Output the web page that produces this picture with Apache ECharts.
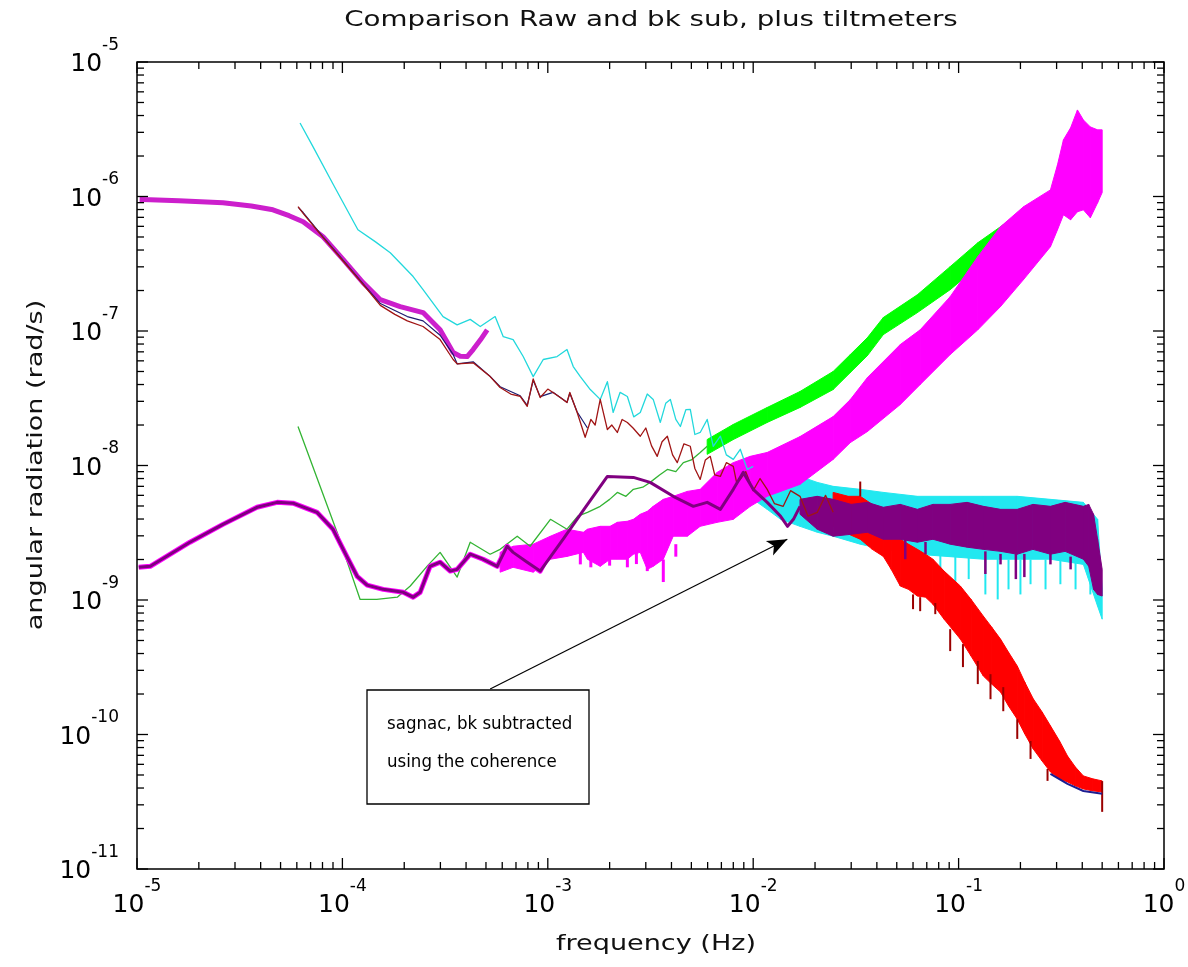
<!DOCTYPE html>
<html><head><meta charset="utf-8">
<script src="https://cdn.jsdelivr.net/npm/echarts@6/dist/echarts.min.js"></script>
<style>html,body{margin:0;padding:0;background:#fff}#chart{width:1188px;height:967px}</style>
</head><body><div id="chart"></div>
<script>
// ---------------- text ----------------
const TITLE = 'Comparison Raw and bk sub, plus tiltmeters';
const X_NAME = 'frequency (Hz)';
const Y_NAME = 'angular radiation (rad/s)';
const NOTE_LINES = ['sagnac, bk subtracted', 'using the coherence'];
const X_RANGE = [1e-5, 1];
const Y_RANGE = [1e-11, 1e-5];
const X_DECADES = [-5, -4, -3, -2, -1, 0];
const Y_DECADES = [-11, -10, -9, -8, -7, -6, -5];

// ---------------- data: [frequency, value] ----------------
const UPPER_MAGENTA = [[1.03e-5,9.5e-7],[1.16e-5,9.46e-7],[1.6e-5,9.3e-7],[2.62e-5,8.97e-7],[3.6e-5,8.5e-7],[4.59e-5,7.96e-7],[5.5e-5,7.2e-7],[6.44e-5,6.49e-7],[8.05e-5,5.02e-7],[1.01e-4,3.39e-7],[1.26e-4,2.29e-7],[1.53e-4,1.71e-7],[1.91e-4,1.52e-7],[2.47e-4,1.37e-7],[2.99e-4,1.02e-7],[3.46e-4,6.91e-8],[3.75e-4,6.5e-8],[4.05e-4,6.46e-8],[4.33e-4,7.28e-8],[4.7e-4,8.6e-8],[5.07e-4,1.02e-7]];

const NAVY_THIN = [[6.1e-5,8.3e-7],[6.44e-5,7.6e-7],[8.05e-5,5.0e-7],[1.01e-4,3.35e-7],[1.26e-4,2.25e-7],[1.53e-4,1.6e-7],[1.8e-4,1.42e-7],[2.07e-4,1.28e-7],[2.47e-4,1.19e-7],[2.99e-4,9.3e-8],[3.46e-4,6.7e-8],[3.62e-4,5.7e-8],[4.33e-4,5.9e-8],[5.24e-4,4.6e-8],[5.86e-4,3.85e-8],[7.34e-4,3.3e-8],[7.94e-4,2.8e-8],[8.49e-4,4.3e-8],[9.18e-4,3.25e-8],[1.06e-3,3.5e-8],[1.24e-3,2.95e-8],[1.28e-3,3.45e-8],[1.39e-3,2.5e-8],[1.56e-3,1.9e-8]];
const NAVY_END = [[0.28,5.1e-11],[0.339,4.3e-11],[0.405,3.8e-11],[0.5,3.62e-11]];

const RED_THIN = [[6.08e-5,8.4e-7],[6.44e-5,7.5e-7],[8.05e-5,4.95e-7],[1.01e-4,3.3e-7],[1.26e-4,2.22e-7],[1.53e-4,1.55e-7],[1.8e-4,1.33e-7],[2.07e-4,1.19e-7],[2.47e-4,1.08e-7],[2.99e-4,8.63e-8],
[3.46e-4,6.14e-8],[3.62e-4,5.7e-8],[4.33e-4,5.8e-8],[5.24e-4,4.58e-8],[5.86e-4,3.8e-8],[6.6e-4,3.4e-8],[7.34e-4,3.26e-8],[7.94e-4,2.75e-8],[8.49e-4,4.4e-8],[9.18e-4,3.2e-8],
[1.0e-3,3.7e-8],[1.06e-3,3.49e-8],[1.15e-3,3.2e-8],[1.24e-3,2.94e-8],[1.28e-3,3.49e-8],[1.39e-3,2.48e-8],[1.52e-3,1.62e-8],[1.62e-3,2.2e-8],[1.7e-3,2.0e-8],[1.8e-3,3.1e-8],
[1.95e-3,1.85e-8],[2.05e-3,2.0e-8],[2.18e-3,1.76e-8],[2.3e-3,2.2e-8],[2.44e-3,2.09e-8],[2.6e-3,1.9e-8],[2.82e-3,1.65e-8],[3.0e-3,1.9e-8],[3.2e-3,1.4e-8],[3.41e-3,1.17e-8],
[3.6e-3,1.5e-8],[3.82e-3,1.65e-8],[4.05e-3,1.2e-8],[4.27e-3,1.05e-8],[4.6e-3,1.45e-8],[4.94e-3,1.39e-8],[5.2e-3,9.5e-9],[5.52e-3,7.88e-9],[5.85e-3,1.1e-8],[6.18e-3,1.17e-8],
[6.5e-3,8.5e-9],[6.92e-3,8.3e-9],[7.4e-3,1.05e-8],[8.0e-3,9.85e-9],[8.3e-3,7.5e-9],[8.65e-3,7.88e-9],[9.2e-3,9.0e-9],[1.0e-2,6.5e-9],[1.08e-2,8.0e-9],[1.17e-2,6.65e-9],
[1.27e-2,5.2e-9],[1.4e-2,4.97e-9],[1.52e-2,6.5e-9],[1.69e-2,5.9e-9],[1.85e-2,4.2e-9],[2.05e-2,4.48e-9],[2.25e-2,6.0e-9],[2.45e-2,4.5e-9]];

const CYAN_THIN = [[6.22e-5,3.52e-6],[7.2e-5,2.34e-6],[9.0e-5,1.24e-6],[1.19e-4,5.66e-7],[1.45e-4,4.6e-7],[1.71e-4,3.82e-7],[2.21e-4,2.54e-7],[2.47e-4,2.03e-7],[3.09e-4,1.28e-7],[3.62e-4,1.11e-7],[4.19e-4,1.22e-7],[4.69e-4,1.08e-7],[5.54e-4,1.28e-7],[6.07e-4,9.08e-8],[6.78e-4,8.63e-8],[7.59e-4,6.46e-8],[8.49e-4,4.58e-8],[9.5e-4,6.14e-8],[1.11e-3,6.46e-8],[1.24e-3,7.28e-8],[1.33e-3,5.44e-8],[1.44e-3,4.58e-8],[1.61e-3,3.67e-8],[1.8e-3,3.1e-8],[1.95e-3,4.2e-8],[2.08e-3,2.48e-8],[2.25e-3,3.5e-8],[2.44e-3,3.26e-8],[2.62e-3,2.3e-8],[2.82e-3,2.48e-8],[3.05e-3,3.4e-8],[3.26e-3,3.1e-8],[3.53e-3,2.09e-8],[3.75e-3,2.9e-8],[3.95e-3,3.1e-8],[4.2e-3,2.2e-8],[4.42e-3,1.95e-8],[4.7e-3,2.6e-8],[4.94e-3,2.61e-8],[5.2e-3,1.7e-8],[5.52e-3,1.76e-8],[5.97e-3,2.2e-8],[6.39e-3,1.39e-8],[6.92e-3,1.65e-8],[7.4e-3,1.2e-8],[8.0e-3,1.11e-8],[8.65e-3,1.32e-8],[9.36e-3,9.35e-9],[1.0e-2,9.85e-9]];

const GREEN_THIN = [[6.08e-5,1.95e-8],[9.42e-5,3.19e-9],[1.22e-4,1.01e-9],[1.47e-4,1.01e-9],[1.85e-4,1.05e-9],[2.14e-4,1.27e-9],[2.6e-4,1.8e-9],[2.99e-4,2.26e-9],[3.62e-4,1.48e-9],[4.19e-4,2.69e-9],[5.24e-4,2.19e-9],[5.86e-4,2.38e-9],[7.1e-4,2.98e-9],[8.2e-4,2.51e-9],[1.03e-3,3.98e-9],[1.24e-3,3.36e-9],[1.4e-3,4.2e-9],[1.56e-3,4.48e-9],[1.8e-3,4.97e-9],[2.0e-3,5.6e-9],[2.18e-3,6.31e-9],[2.4e-3,5.9e-9],[2.61e-3,6.65e-9],[2.9e-3,6.9e-9],[3.15e-3,7.49e-9],[3.5e-3,8.5e-9],[3.82e-3,9.35e-9],[4.2e-3,9.0e-9],[4.57e-3,1.05e-8],[5.0e-3,1.1e-8],[5.52e-3,1.25e-8],[5.97e-3,1.39e-8]];

const LOWER_MAGENTA = [[1.02e-5,1.75e-9],[1.16e-5,1.78e-9],[1.81e-5,2.69e-9],[2.62e-5,3.65e-9],[3.84e-5,4.89e-9],[4.81e-5,5.32e-9],[5.75e-5,5.25e-9],[7.53e-5,4.48e-9],[9.0e-5,3.36e-9],[1.05e-4,2.11e-9],[1.18e-4,1.5e-9],[1.32e-4,1.29e-9],[1.58e-4,1.2e-9],[1.98e-4,1.14e-9],[2.21e-4,1.05e-9],[2.39e-4,1.14e-9],[2.67e-4,1.78e-9],[2.99e-4,1.91e-9],[3.35e-4,1.64e-9],[3.62e-4,1.69e-9],[4.19e-4,2.19e-9],[4.84e-4,2.01e-9],[5.67e-4,1.78e-9],[6.34e-4,2.51e-9],[6.78e-4,2.26e-9],[7.94e-4,1.91e-9],[9.18e-4,1.64e-9],[1.03e-3,2.3e-9]];

const PURPLE_LINE = [[1.02e-5,1.75e-9],[1.16e-5,1.78e-9],[1.81e-5,2.69e-9],[2.62e-5,3.65e-9],[3.84e-5,4.89e-9],[4.81e-5,5.32e-9],[5.75e-5,5.25e-9],[7.53e-5,4.48e-9],[9.0e-5,3.36e-9],[1.05e-4,2.11e-9],[1.18e-4,1.5e-9],[1.32e-4,1.29e-9],[1.58e-4,1.2e-9],[1.98e-4,1.14e-9],[2.21e-4,1.05e-9],[2.39e-4,1.14e-9],[2.67e-4,1.78e-9],[2.99e-4,1.91e-9],[3.35e-4,1.64e-9],[3.62e-4,1.69e-9],[4.19e-4,2.19e-9],[4.84e-4,2.01e-9],[5.67e-4,1.78e-9],[6.34e-4,2.51e-9],[6.78e-4,2.26e-9],[7.94e-4,1.91e-9],[9.18e-4,1.64e-9],[1.2e-3,2.9e-9],[1.5e-3,4.72e-9],[1.95e-3,8.3e-9],[2.61e-3,8.16e-9],[3.15e-3,7.49e-9],[4.08e-3,5.9e-9],[5.11e-3,4.97e-9],[5.97e-3,5.32e-9],[6.92e-3,4.72e-9],[8.0e-3,6.65e-9],[8.95e-3,8.89e-9],[1.0e-2,6.65e-9],[1.17e-2,5.32e-9],[1.36e-2,4.19e-9],[1.47e-2,3.53e-9],[1.57e-2,3.98e-9],[1.69e-2,4.97e-9]];

// ---------------- noisy bands: [frequency, upper, lower] ----------------
const CYAN_BAND = [[1.0e-2,9.85e-9,5.6e-9],[1.17e-2,9.04e-9,4.72e-9],[1.36e-2,7.88e-9,3.98e-9],[1.69e-2,8.3e-9,3.53e-9],[2.05e-2,7.49e-9,3.19e-9],[2.45e-2,7.0e-9,2.98e-9],[3.32e-2,6.65e-9,2.6e-9],[4.3e-2,6.31e-9,2.38e-9],[6.3e-2,5.9e-9,2.19e-9],[9.1e-2,5.9e-9,2.1e-9],[0.132,5.9e-9,2.01e-9],[0.193,5.9e-9,2.01e-9],[0.28,5.6e-9,2.01e-9],[0.405,5.32e-9,1.84e-9],[0.475,3.98e-9,9.0e-10],[0.5,1.2e-9,7.2e-10]];

const GREEN_BAND = [[5.97e-3,1.56e-8,1.21e-8],[8.0e-3,2.02e-8,1.56e-8],[1.17e-2,2.7e-8,2.09e-8],[1.69e-2,3.55e-8,2.7e-8],[2.45e-2,5.0e-8,3.67e-8],[2.97e-2,6.68e-8,4.91e-8],[3.6e-2,8.93e-8,6.57e-8],[4.3e-2,1.26e-7,9.4e-8],[6.3e-2,1.86e-7,1.37e-7],[9.1e-2,3.01e-7,2.03e-7],[0.124,4.53e-7,3.01e-7],[0.16,5.96e-7,4.23e-7],[0.216,8.39e-7,5.96e-7],[0.28,1.03e-6,7.31e-7],[0.313,1.22e-6,8.68e-7]];

const MAGENTA_BAND = [[5.86e-4,2.26e-9,1.61e-9],[6.78e-4,2.51e-9,1.75e-9],[8.49e-4,2.6e-9,1.61e-9],[1.03e-3,2.98e-9,2.01e-9],[1.24e-3,3.36e-9,2.11e-9],[1.49e-3,3.19e-9,2.26e-9],[1.56e-3,3.36e-9,2.01e-9],[1.8e-3,3.53e-9,1.78e-9],[2.01e-3,3.53e-9,2.01e-9],[2.18e-3,3.78e-9,2.01e-9],[2.44e-3,3.85e-9,2.01e-9],[2.61e-3,3.98e-9,2.19e-9],[2.82e-3,4.34e-9,2.26e-9],[3.05e-3,4.56e-9,1.69e-9],[3.26e-3,4.97e-9,1.78e-9],[3.65e-3,5.6e-9,2.01e-9],[4.08e-3,5.9e-9,2.98e-9],[4.78e-3,6.42e-9,2.98e-9],[5.52e-3,6.65e-9,3.53e-9],[6.68e-3,8.89e-9,3.78e-9],[8.0e-3,1.05e-8,3.98e-9],[9.68e-3,1.17e-8,4.97e-9],[1.17e-2,1.25e-8,5.9e-9],[1.69e-2,1.64e-8,7.24e-9],[2.45e-2,2.31e-8,1.11e-8],[2.97e-2,3.09e-8,1.48e-8],[3.6e-2,4.51e-8,1.79e-8],[5.2e-2,7.93e-8,2.84e-8],[6.5e-2,1.02e-7,4.0e-8],[9.1e-2,1.8e-7,6.68e-8],[0.124,3.57e-7,1.02e-7],[0.16,5.96e-7,1.52e-7],[0.207,8.39e-7,2.41e-7],[0.28,1.12e-6,4.23e-7],[0.303,1.72e-6,5.66e-7],[0.324,2.64e-6,7.31e-7],[0.351,3.24e-6,6.71e-7],[0.379,4.4e-6,7.7e-7],[0.405,3.71e-6,7.96e-7],[0.438,3.29e-6,6.95e-7],[0.475,3.13e-6,8.98e-7],[0.5,3.13e-6,1.07e-6]];

const RED_BAND = [[2.45e-2,6.31e-9,3.53e-9],[2.9e-2,5.9e-9,3.1e-9],[3.32e-2,5.9e-9,2.83e-9],[3.8e-2,5.14e-9,2.38e-9],[4.3e-2,4.19e-9,2.11e-9],[4.7e-2,3.65e-9,1.69e-9],[5.2e-2,2.83e-9,1.27e-9],[5.7e-2,2.6e-9,1.2e-9],[6.3e-2,2.38e-9,1.07e-9],[6.9e-2,2.19e-9,1.05e-9],[7.5e-2,2.01e-9,9.3e-10],[8.5e-2,1.64e-9,7.2e-10],[0.102,1.27e-9,5.12e-10],[0.115,1.01e-9,3.83e-10],[0.132,7.58e-10,2.72e-10],[0.145,6.28e-10,2.37e-10],[0.16,5.12e-10,2.07e-10],[0.175,4.09e-10,1.63e-10],[0.193,3.23e-10,1.3e-10],[0.21,2.45e-10,1.01e-10],[0.231,1.84e-10,7.8e-11],[0.255,1.47e-10,6.35e-11],[0.28,1.16e-10,5.27e-11],[0.31,8.95e-11,4.68e-11],[0.339,6.92e-11,4.44e-11],[0.37,5.74e-11,4.15e-11],[0.405,4.92e-11,3.94e-11],[0.45,4.68e-11,3.81e-11],[0.5,4.52e-11,3.74e-11]];

const PURPLE_BAND = [[1.69e-2,5.6e-9,4.34e-9],[2.05e-2,5.9e-9,3.36e-9],[2.45e-2,5.6e-9,2.98e-9],[3.0e-2,5.14e-9,3.08e-9],[3.6e-2,5.32e-9,3.19e-9],[4.3e-2,4.89e-9,2.83e-9],[5.2e-2,5.14e-9,2.83e-9],[6.3e-2,4.72e-9,2.69e-9],[7.5e-2,5.14e-9,2.83e-9],[9.1e-2,5.14e-9,2.6e-9],[0.11,5.32e-9,2.47e-9],[0.132,4.97e-9,2.38e-9],[0.16,4.72e-9,2.3e-9],[0.193,4.72e-9,2.19e-9],[0.23,5.14e-9,2.38e-9],[0.28,4.97e-9,2.19e-9],[0.33,5.32e-9,2.3e-9],[0.405,4.97e-9,2.01e-9],[0.43,5.14e-9,1.78e-9],[0.454,4.34e-9,1.2e-9],[0.475,2.83e-9,1.1e-9],[0.5,1.69e-9,1.07e-9]];

// ---------------- spikes: [frequency, top, bottom] ----------------
const RED_SPIKES = [[3.32e-2,7.6e-9,5.9e-9],[6.0e-2,1.1e-9,8.55e-10],[6.5e-2,1.05e-9,8.26e-10],[7.7e-2,9.5e-10,7.85e-10],[9.1e-2,6.07e-10,4.17e-10],[0.105,4.7e-10,3.17e-10],[0.124,3.52e-10,2.37e-10],[0.143,2.81e-10,1.83e-10],[0.165,2.25e-10,1.49e-10],[0.193,1.3e-10,9.27e-11],[0.224,8.95e-11,6.58e-11],[0.271,5.54e-11,4.52e-11],[0.5,4.5e-11,2.66e-11]];
const CYAN_SPIKES = [[8.15e-2,2.2e-9,1.31e-9],[9.64e-2,2.2e-9,1.2e-9],[0.112,2.1e-9,1.43e-9],[0.135,2.1e-9,1.1e-9],[0.155,2.1e-9,1.01e-9],[0.175,2.0e-9,1.2e-9],[0.2,2.0e-9,1.1e-9],[0.224,2.0e-9,1.31e-9],[0.265,2.0e-9,1.2e-9],[0.313,2.0e-9,1.31e-9],[0.371,1.9e-9,1.2e-9],[0.438,1.8e-9,1.1e-9]];
const PURPLE_SPIKES = [[5.5e-2,2.83e-9,2.01e-9],[6.9e-2,2.7e-9,2.19e-9],[0.135,2.3e-9,1.56e-9],[0.16,2.2e-9,1.84e-9],[0.19,2.2e-9,1.43e-9],[0.209,2.2e-9,1.48e-9],[0.28,2.2e-9,1.84e-9],[0.351,2.1e-9,1.69e-9]];
const MAGENTA_SPIKES = [[1.44e-3,2.3e-9,1.84e-9],[1.62e-3,2.2e-9,1.75e-9],[2.0e-3,2.3e-9,1.8e-9],[2.44e-3,2.1e-9,1.75e-9],[2.7e-3,2.3e-9,1.85e-9],[3.05e-3,2.2e-9,1.64e-9],[3.65e-3,2.0e-9,1.36e-9],[4.2e-3,2.6e-9,2.1e-9]];

// annotation arrow: [frequency, value] of tail and head
const ARROW_FROM = [5.24e-4, 2.18e-10];
const ARROW_TO = [1.466e-2, 2.83e-9];

// ---------------- chart ----------------
const FONT = 'DejaVu Sans';
const chart = echarts.init(document.getElementById('chart'), null, {renderer: 'canvas'});

function lineSeries(pairs, color, width, extra) {
  return Object.assign({type: 'line', data: pairs, symbol: 'none', showSymbol: false, silent: true,
    animation: false, lineStyle: {color: color, width: width, join: 'round'}, emphasis: {disabled: true}}, extra || {});
}
function bandSeries(rows, color) {
  return {type: 'custom', coordinateSystem: 'cartesian2d', silent: true, animation: false,
    data: rows, encode: {x: 0, y: [1, 2]},
    renderItem: function (params, api) {
      const i = params.dataIndexInside;
      if (i >= rows.length - 1) return null;
      const a1 = api.coord([api.value(0, i), api.value(1, i)]);
      const a2 = api.coord([api.value(0, i + 1), api.value(1, i + 1)]);
      const b2 = api.coord([api.value(0, i + 1), api.value(2, i + 1)]);
      const b1 = api.coord([api.value(0, i), api.value(2, i)]);
      return {type: 'polygon', shape: {points: [a1, a2, b2, b1]}, style: {fill: color, stroke: color, lineWidth: 1}};
    }};
}
function spikeSeries(rows, color, width) {
  return {type: 'custom', coordinateSystem: 'cartesian2d', silent: true, animation: false,
    data: rows, encode: {x: 0, y: [1, 2]},
    renderItem: function (params, api) {
      const p = api.coord([api.value(0), api.value(1)]);
      const q = api.coord([api.value(0), api.value(2)]);
      return {type: 'line', shape: {x1: p[0], y1: p[1], x2: q[0], y2: q[1]}, style: {stroke: color, lineWidth: width}};
    }};
}
// tick marks (inside, on all four sides, major + minor, log-spaced)
const X_TICKS = [], Y_TICKS = [];
X_DECADES.forEach(function (e) { for (let m = 1; m <= 9; m++) { if (e === 0 && m > 1) break; X_TICKS.push([m * Math.pow(10, e), 1e-8, m === 1 ? 1 : 0]); } });
Y_DECADES.forEach(function (e) { for (let m = 1; m <= 9; m++) { if (e === -5 && m > 1) break; Y_TICKS.push([1e-3, m * Math.pow(10, e), m === 1 ? 1 : 0]); } });
function tickSeries(rows, isX) {
  return {type: 'custom', coordinateSystem: 'cartesian2d', silent: true, animation: false, z: 10,
    data: rows, encode: {x: 0, y: 1},
    renderItem: function (params, api) {
      const len = api.value(2) ? 11 : 7;
      const st = {stroke: '#000', lineWidth: 1.3};
      if (isX) {
        const b = api.coord([api.value(0), Y_RANGE[0]]);
        const t = api.coord([api.value(0), Y_RANGE[1]]);
        return {type: 'group', children: [
          {type: 'line', shape: {x1: b[0], y1: b[1], x2: b[0], y2: b[1] - len}, style: st},
          {type: 'line', shape: {x1: t[0], y1: t[1], x2: t[0], y2: t[1] + len}, style: st}]};
      }
      const l = api.coord([X_RANGE[0], api.value(1)]);
      const r = api.coord([X_RANGE[1], api.value(1)]);
      return {type: 'group', children: [
        {type: 'line', shape: {x1: l[0], y1: l[1], x2: l[0] + len, y2: l[1]}, style: st},
        {type: 'line', shape: {x1: r[0], y1: r[1], x2: r[0] - len, y2: r[1]}, style: st}]};
    }};
}
function expLabel(v) { return '{b|10}{e|' + Math.round(Math.log10(v)) + '}'; }
const RICH = {
  b: {fontSize: 25, fontFamily: FONT, color: '#000', lineHeight: 40, verticalAlign: 'bottom'},
  e: {fontSize: 17, fontFamily: FONT, color: '#000', lineHeight: 12, verticalAlign: 'top'}
};

const option = {
  backgroundColor: '#fff',
  animation: false,
  grid: {left: 137, top: 62, width: 1027, height: 807, show: true, borderColor: '#000', borderWidth: 1.5,
    containLabel: false, outerBoundsMode: 'none'},
  xAxis: {type: 'log', logBase: 10, min: X_RANGE[0], max: X_RANGE[1], splitNumber: 5,
    axisLine: {show: false}, axisTick: {show: false}, splitLine: {show: false}, minorTick: {show: false},
    axisLabel: {margin: 9, formatter: expLabel, rich: RICH, showMinLabel: true, showMaxLabel: true, hideOverlap: false}},
  yAxis: {type: 'log', logBase: 10, min: Y_RANGE[0], max: Y_RANGE[1], splitNumber: 6,
    axisLine: {show: false}, axisTick: {show: false}, splitLine: {show: false}, minorTick: {show: false},
    axisLabel: {margin: 18, padding: [0, 0, 10, 0], formatter: expLabel, rich: RICH, showMinLabel: true, showMaxLabel: true, hideOverlap: false}},
  series: [
    lineSeries(CYAN_THIN, '#22d8dc', 1.3),
    bandSeries(CYAN_BAND, '#22e8f0'),
    spikeSeries(CYAN_SPIKES, '#22e8f0', 2),
    lineSeries(GREEN_THIN, '#33b433', 1.3),
    bandSeries(GREEN_BAND, '#00ff00'),
    lineSeries(LOWER_MAGENTA, '#ff00ff', 5),
    bandSeries(MAGENTA_BAND, '#ff00ff'),
    spikeSeries(MAGENTA_SPIKES, '#ff00ff', 3),
    lineSeries(UPPER_MAGENTA, '#cc1fcc', 5),
    lineSeries(NAVY_THIN, '#1c1c70', 1.2),
    lineSeries(NAVY_END, '#1c1c90', 2),
    lineSeries(RED_THIN, '#a01414', 1.3),
    bandSeries(RED_BAND, '#ff0000'),
    lineSeries(PURPLE_LINE, '#800080', 3, {
      markLine: {silent: true, animation: false, symbol: ['none', 'arrow'], symbolSize: [12, 20],
        lineStyle: {color: '#000', width: 1.2, type: 'solid'}, label: {show: false},
        emphasis: {disabled: true},
        data: [[{coord: ARROW_FROM}, {coord: ARROW_TO}]]}
    }),
    bandSeries(PURPLE_BAND, '#800080'),
    spikeSeries(PURPLE_SPIKES, '#800080', 2.5),
    spikeSeries(RED_SPIKES, '#9a0000', 2),
    tickSeries(X_TICKS, true),
    tickSeries(Y_TICKS, false)
  ],
  graphic: [
    {type: 'text', x: 651, y: 21, scaleX: 1.32, z: 100,
      style: {text: TITLE, fontSize: 21, fontFamily: FONT, fill: '#111', align: 'center', verticalAlign: 'middle', textAlign: 'center', textVerticalAlign: 'middle'}},
    {type: 'text', x: 656, y: 945, scaleX: 1.32, z: 100,
      style: {text: X_NAME, fontSize: 20.5, fontFamily: FONT, fill: '#111', align: 'center', verticalAlign: 'middle', textAlign: 'center', textVerticalAlign: 'middle'}},
    {type: 'text', x: 37, y: 465, rotation: Math.PI / 2, scaleX: 1.32, z: 100,
      style: {text: Y_NAME, fontSize: 20.5, fontFamily: FONT, fill: '#111', align: 'center', verticalAlign: 'middle', textAlign: 'center', textVerticalAlign: 'middle'}},
    {type: 'rect', z: 100, shape: {x: 367, y: 690, width: 222, height: 114},
      style: {fill: '#fff', stroke: '#000', lineWidth: 1.3}},
    {type: 'text', x: 387, y: 724, scaleX: 0.9, z: 101,
      style: {text: NOTE_LINES[0], fontSize: 18.5, fontFamily: FONT, fill: '#000', align: 'left', verticalAlign: 'middle', textAlign: 'left', textVerticalAlign: 'middle'}},
    {type: 'text', x: 387, y: 762, scaleX: 0.9, z: 101,
      style: {text: NOTE_LINES[1], fontSize: 18.5, fontFamily: FONT, fill: '#000', align: 'left', verticalAlign: 'middle', textAlign: 'left', textVerticalAlign: 'middle'}}
  ]
};
chart.setOption(option);
</script>
</body></html>
